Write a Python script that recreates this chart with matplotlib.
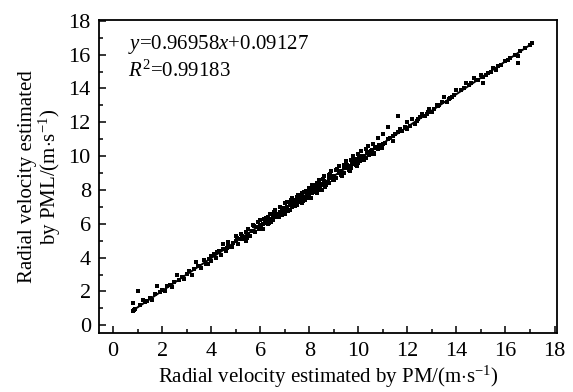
import numpy as np
import matplotlib.pyplot as plt
from matplotlib.ticker import MultipleLocator

plt.rcParams['font.family'] = 'Liberation Serif'
plt.rcParams['mathtext.fontset'] = 'custom'
plt.rcParams['mathtext.rm'] = 'Liberation Serif'
plt.rcParams['mathtext.it'] = 'Liberation Serif:italic'

# radial velocity by PM (x) and by PML (y)
pm = [0.8, 0.85, 0.9, 0.8, 1.0, 1.1, 1.2, 1.3, 1.4, 1.5, 1.6, 1.7, 1.8, 1.9, 2.0, 2.1,
      2.2, 2.3, 2.4, 2.5, 2.6, 2.7, 2.8, 2.9, 3.0, 3.1, 3.2, 3.3, 3.4, 3.5, 3.6, 3.7,
      3.8, 3.9, 4.0, 4.0, 4.1, 4.2, 4.3, 4.4,
      4.5, 4.5, 4.6, 4.7, 4.7, 4.8, 4.9, 5.0, 5.0, 5.1, 5.2, 5.2, 5.3, 5.4, 5.4, 5.5,
      5.5, 5.6, 5.7, 5.7, 5.8, 5.9, 5.9, 6.0, 6.0, 6.1, 6.1, 6.2, 6.2, 6.3, 6.3, 6.4,
      6.4, 6.5, 6.5, 6.6, 6.6, 6.7, 6.7, 6.8, 6.8, 6.9, 6.9, 7.0, 7.0, 7.0,
      7.1, 7.1, 7.2, 7.2, 7.3, 7.3, 7.4, 7.4, 7.5, 7.5, 7.6, 7.6, 7.7, 7.7, 7.8, 7.8,
      7.9, 7.9, 8.0, 8.0, 8.1, 8.1, 8.2, 8.2, 8.3, 8.3, 8.4, 8.4, 8.5, 8.5, 8.6, 8.6,
      8.7, 8.7, 8.8, 8.8, 8.9, 8.9, 9.0, 9.0, 9.1, 9.1, 9.2, 9.2, 9.3, 9.3, 9.4, 9.4,
      9.5, 9.5, 9.6, 9.6, 9.7, 9.7, 9.8, 9.8, 9.9, 9.9, 10.0, 10.0, 10.1, 10.1, 10.2,
      10.2, 10.3, 10.3, 10.4, 10.4, 10.5, 10.5, 10.6, 10.6, 10.7, 10.8, 10.8, 10.9,
      11.0, 11.0,
      11.1, 11.2, 11.2, 11.3, 11.4, 11.4, 11.5, 11.6, 11.6, 11.7, 11.8, 11.9, 12.0,
      12.0, 12.1, 12.2, 12.3, 12.4, 12.5, 12.6, 12.7, 12.8, 12.9, 13.0, 13.1, 13.2,
      13.3, 13.4, 13.5, 13.6, 13.7, 13.8, 13.9, 14.0,
      14.2, 14.3, 14.4, 14.5, 14.6, 14.7, 14.8, 14.9, 15.0, 15.1, 15.2, 15.3, 15.4,
      15.5, 15.6, 15.7, 15.8, 16.0, 16.1, 16.2, 16.4, 16.5, 16.6, 16.8, 17.0, 17.1,
      16.5, 15.1,
      # extra points in the dense middle of the cloud
      5.05, 5.35, 5.65, 5.95, 6.15, 6.35, 6.55, 6.75, 6.95, 7.15, 7.25, 7.35, 7.45,
      7.55, 7.65, 7.75, 7.85, 7.95, 8.05, 8.15, 8.25, 8.35, 8.45, 8.55, 8.65, 8.75,
      8.85, 8.95, 9.05, 9.15, 9.25, 9.35, 9.45, 9.55, 9.65, 9.75, 9.85, 9.95, 10.05,
      10.15, 10.25, 10.35, 10.45, 10.55, 10.65, 10.75, 10.85, 10.95,
      6.05, 6.25, 6.45, 6.65, 6.85, 7.05, 7.22, 7.42, 7.62, 7.82, 8.02, 8.22, 8.42,
      8.62, 8.82, 9.02, 9.22, 9.42, 9.62, 9.82, 10.02, 10.22, 10.42, 10.62,
      3.45, 3.85, 4.25, 4.65, 4.85, 5.25, 5.45, 5.75, 12.45, 12.85, 13.25, 13.75]
pml = [0.82, 0.9, 0.95, 1.3, 2.0, 1.2, 1.5, 1.35, 1.45, 1.6, 1.5, 1.85, 2.3, 1.95, 2.1, 2.0,
       2.3, 2.4, 2.25, 2.55, 3.0, 2.7, 2.85, 2.75, 3.05, 3.2, 3.0, 3.3, 3.75, 3.5, 3.4, 3.85,
       3.6, 3.9, 4.1, 3.8, 4.2, 4.0, 4.4, 4.15,
       4.5, 4.8, 4.4, 4.7, 4.95, 4.6, 4.85, 5.0, 5.3, 4.8, 5.1, 5.4, 5.2, 5.0, 5.5, 5.4,
       5.7, 5.3, 5.6, 5.9, 5.5, 5.8, 6.1, 5.9, 6.2, 5.7, 6.0, 6.3, 6.05, 6.0, 6.4, 6.3,
       6.6, 6.2, 6.5, 6.45, 6.8, 6.4, 6.6, 6.7, 7.0, 6.5, 6.8, 6.9, 7.2, 6.6,
       7.0, 7.3, 6.8, 7.1, 7.5, 7.0, 7.2, 7.4, 7.6, 7.1, 7.3, 7.5, 7.8, 7.2, 7.6, 7.9,
       7.5, 7.7, 8.1, 7.6, 7.8, 8.3, 7.9, 8.0, 8.4, 7.8, 8.2, 8.6, 8.3, 8.0, 8.5, 8.8,
       8.3, 8.5, 8.9, 8.4, 8.7, 9.1, 8.6, 8.8, 9.2, 8.7, 9.0, 9.4, 8.9, 9.1, 9.5, 9.0,
       9.3, 9.7, 9.2, 9.4, 9.8, 9.3, 9.6, 10.0, 9.5, 9.7, 10.1, 9.6, 9.9, 10.3, 9.8,
       10.0, 10.4, 9.9, 10.2, 10.6, 10.1, 10.3, 10.7, 10.2, 10.5, 11.1, 10.4, 10.6,
       10.7, 11.3,
       10.8, 11.0, 11.7, 11.1, 11.2, 10.9, 11.3, 12.35, 11.4, 11.6, 11.5, 11.7, 12.0,
       11.6, 11.8, 12.2, 11.9, 12.1, 12.3, 12.5, 12.4, 12.5, 12.8, 12.6, 12.8, 13.0,
       13.0, 13.2, 13.5, 13.2, 13.4, 13.5, 13.6, 13.9,
       13.9, 14.0, 14.3, 14.2, 14.3, 14.6, 14.5, 14.5, 14.8, 14.7, 14.8, 14.9, 15.0,
       15.2, 15.1, 15.3, 15.4, 15.6, 15.7, 15.8, 16.0, 15.9, 16.2, 16.4, 16.6, 16.7,
       15.5, 14.3,
       5.15, 5.12, 5.58, 5.72, 6.28, 6.05, 6.71, 6.42, 6.93, 6.78, 7.38, 7.22, 7.09,
       7.68, 7.47, 7.36, 7.92, 7.81, 7.55, 8.12, 8.28, 7.97, 8.36, 8.66, 8.18, 8.47,
       8.92, 8.58, 8.73, 9.23, 9.02, 8.84, 9.38, 9.47, 9.12, 9.56, 9.82, 9.44, 9.71,
       10.02, 9.84, 10.21, 10.08, 10.38, 10.14, 10.52, 10.63, 10.48,
       5.81, 6.34, 6.12, 6.58, 6.62, 6.74, 7.18, 7.04, 7.61, 7.42, 7.96, 8.14, 8.04,
       8.52, 8.71, 8.62, 9.06, 9.27, 9.18, 9.64, 9.93, 9.78, 10.27, 10.19,
       3.52, 3.64, 4.31, 4.56, 4.62, 5.26, 5.18, 5.86, 12.18, 12.58, 12.94, 13.42]

slope = 0.96958
intercept = 0.09127
r2 = 0.99183
fit_x = [0.8, 17.1]

fig = plt.figure(figsize=(5.73, 3.92), dpi=100)
ax = fig.add_axes([0.173, 0.150, 0.799, 0.799])

ax.scatter(pm, pml, s=5, c='black', marker='s', linewidths=0)
fx = np.array(fit_x)
ax.plot(fx, slope * fx + intercept, color='black', lw=1.4)

ax.set_xlim(-0.57, 18.1)
ax.set_ylim(-0.47, 18.05)
ax.xaxis.set_major_locator(MultipleLocator(2))
ax.xaxis.set_minor_locator(MultipleLocator(1))
ax.yaxis.set_major_locator(MultipleLocator(2))
ax.yaxis.set_minor_locator(MultipleLocator(1))
ax.tick_params(which='both', direction='in', labelsize=16, width=1.1)
ax.tick_params(which='major', length=5, pad=6)
ax.tick_params(which='minor', length=3)
for sp in ax.spines.values():
    sp.set_linewidth(1.3)

ax.set_xlabel(r'Radial velocity estimated by PM/(m$\cdot$s$^{-1}$)', fontsize=15, labelpad=2)
ax.set_ylabel('Radial velocity estimated\n' + r'by PML/(m$\cdot$s$^{-1}$)', fontsize=15,
              labelpad=4, linespacing=1.0)

ax.text(0.6, 16.6, '$y$=%.5f$x$+%.5f' % (slope, intercept), fontsize=15, va='center')
ax.text(0.6, 15.0, '$R^2$=%.5f' % r2, fontsize=15, va='center')

fig.savefig('out.png', dpi=100)
